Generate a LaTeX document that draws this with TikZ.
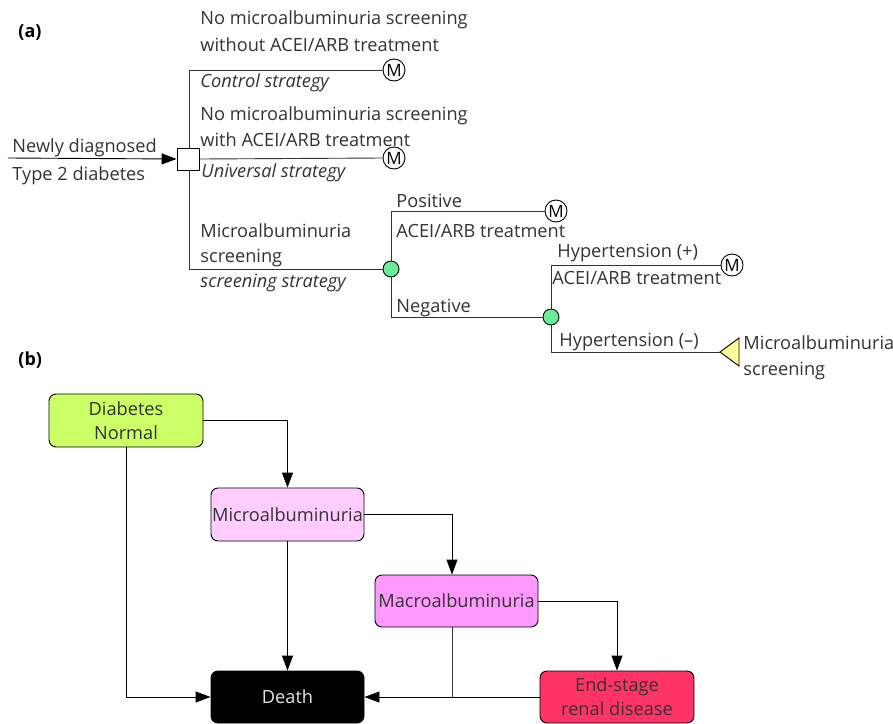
\documentclass[tikz,border=0pt]{standalone}
\usepackage{fontspec}
\setmainfont{Open Sans}
\usetikzlibrary{arrows.meta}
\definecolor{linec}{HTML}{333333}
\definecolor{chg}{HTML}{66EE99}
\definecolor{triy}{HTML}{FFFF99}
\definecolor{dnc}{HTML}{CCFF66}
\definecolor{mic}{HTML}{FFCCFF}
\definecolor{mac}{HTML}{FF99FF}
\definecolor{esc}{HTML}{FF3366}
\begin{document}
\begin{tikzpicture}[x=1pt,y=-1pt,
  font=\fontsize{18.2}{24}\selectfont,
  line width=0.9pt, draw=linec,
  lbl/.style={anchor=base west, inner sep=0pt, text=linec},
  mnode/.style={circle, draw=black, fill=white, inner sep=0pt, minimum size=22pt, font=\fontsize{17}{17}\selectfont},
  chance/.style={circle, draw=black, fill=chg, inner sep=0pt, minimum size=16pt},
  state/.style={rounded corners=7pt, draw=black, line width=0.9pt, minimum width=153pt, minimum height=53pt, align=center, inner sep=0pt, text=linec},
  arr/.style={draw=black, -{Triangle[length=15pt,width=11pt]}}
]
\useasboundingbox (0,0) rectangle (893,723);

% ---------- (a) ----------
\node[anchor=base west, inner sep=0pt, font=\fontsize{18}{20}\selectfont\bfseries] (la) at (18,37) {(a)};

\coordinate (in) at (8,158);
\coordinate (v1) at (189,70);
\coordinate (v3) at (189,269);
\node[mnode] (m1) at (394,70) {M};
\node[mnode] (m2) at (394,158) {M};
\node[chance] (c1) at (391,269) {};
\coordinate (p1) at (391,211);
\node[mnode] (m3) at (556,211) {M};
\node[chance] (c2) at (551,317) {};
\node[mnode] (m4) at (732,265) {M};
\coordinate (tip) at (720,352);

\draw (v1) -- (v3);
\draw (v1) -- (m1.west);
\draw (v3) -- (c1.west);
\draw (c1.north) -- (p1) -- (m3.west);
\draw (c1.south) |- (c2.west);
\draw (c2.north) |- (m4.west);
\draw (c2.south) |- (tip);
\node[draw=black, fill=white, minimum size=22pt, inner sep=0pt] (dec) at (188,159) {};
\draw (dec.east) -- (m2.west);
\draw[arr] (in) -- (dec.west);
\draw[draw=black, fill=triy] (tip) -- (739,338) -- (739,366) -- cycle;

\node[lbl] (t1) at (12,152) {Newly diagnosed};
\node[lbl] (t2) at (12,180) {Type 2 diabetes};
\node[lbl] (t3) at (200,24) {No microalbuminuria screening};
\node[lbl] (t4) at (200,51) {without ACEI/ARB treatment};
\node[lbl, font=\fontsize{18.2}{24}\selectfont\itshape] (t5) at (200,87) {Control strategy};
\node[lbl] (t6) at (200,120) {No microalbuminuria screening};
\node[lbl] (t7) at (200,146) {with ACEI/ARB treatment};
\node[lbl, font=\fontsize{18.2}{24}\selectfont\itshape] (t8) at (201,177) {Universal strategy};
\node[lbl] (t9) at (200,237) {Microalbuminuria};
\node[lbl] (t10) at (200,262) {screening};
\node[lbl, font=\fontsize{18.2}{24}\selectfont\itshape] (t11) at (200,287) {screening strategy};
\node[lbl] (t12) at (396,207) {Positive};
\node[lbl] (t13) at (396,237) {ACEI/ARB treatment};
\node[lbl] (t14) at (396,312) {Negative};
\node[lbl] (t15) at (557,257) {Hypertension (+)};
\node[lbl] (t16) at (552,284) {ACEI/ARB treatment};
\node[lbl] (t17) at (559,346) {Hypertension (–)};
\node[lbl] (t18) at (743,349) {Microalbuminuria};
\node[lbl] (t19) at (743,375) {screening};

% ---------- (b) ----------
\node[anchor=base west, inner sep=0pt, font=\fontsize{18}{20}\selectfont\bfseries] (lb) at (18,365) {(b)};

\node[state, fill=dnc, minimum width=154pt] (dn) at (126,420.5) {Diabetes\\Normal};
\node[state, fill=mic] (micro) at (287.5,514.5) {Microalbuminuria};
\node[state, fill=mac, minimum width=163pt, minimum height=52pt] (macro) at (456.5,601) {Macroalbuminuria};
\node[state, fill=black, text=white!90!black, minimum height=52pt] (death) at (287.5,697) {Death};
\node[state, fill=esc, minimum width=154pt, minimum height=52pt] (esrd) at (617,697) {End-stage\\renal disease};
\coordinate (mx) at (452,0);

\draw[arr] (dn.east) -| (micro.north);
\draw[arr] (dn.south) |- (death.west);
\draw[arr] (micro.south) -- (death.north);
\draw[arr] (micro.east) -| (macro.north -| mx);
\draw[arr] (macro.east) -| (esrd.north);
\draw (macro.south -| mx) -- (mx |- death.east);
\draw[arr] (esrd.west) -- (death.east);
\end{tikzpicture}
\end{document}
